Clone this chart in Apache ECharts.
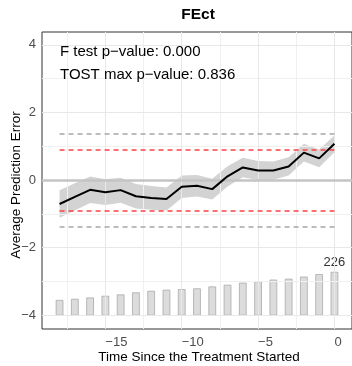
<!DOCTYPE html>
<html>
<head>
<meta charset="utf-8">
<script src="https://cdn.jsdelivr.net/npm/echarts@6/dist/echarts.min.js"></script>
<style>
  html, body { margin: 0; padding: 0; background: #ffffff; }
  #chart { width: 352px; height: 366px; }
</style>
</head>
<body>
<div id="chart"></div>
<script>
// Event time relative to treatment start
const periods = [-18, -17, -16, -15, -14, -13, -12, -11, -10, -9, -8, -7, -6, -5, -4, -3, -2, -1, 0];
// Average prediction error (pre-treatment residuals)
const estimate = [-0.71, -0.50, -0.29, -0.36, -0.30, -0.48, -0.53, -0.56, -0.20, -0.17, -0.27, 0.11, 0.37, 0.28, 0.28, 0.40, 0.81, 0.64, 1.07];
// Confidence band
const ciUpper = [-0.30, -0.10, 0.10, 0.02, 0.07, -0.12, -0.18, -0.22, 0.13, 0.15, 0.04, 0.41, 0.66, 0.56, 0.55, 0.67, 1.07, 0.90, 1.32];
const ciLower = [-1.12, -0.90, -0.68, -0.74, -0.67, -0.84, -0.88, -0.90, -0.53, -0.49, -0.58, -0.19, 0.08, 0.00, 0.01, 0.13, 0.55, 0.38, 0.82];
// Number of treated units observed at each period
const treatedCounts = [78, 84, 91, 100, 107, 118, 126, 132, 135, 139, 149, 158, 169, 176, 185, 190, 201, 214, 226];
// Equivalence bounds
const equivBound = 0.9;
const minRange = 1.37;
// Axis ticks
const xTicks = [-15, -10, -5, 0];
const yTicks = [-4, -2, 0, 2, 4];
const xMinorGrid = [-17.5, -12.5, -7.5, -2.5];
const yMinorGrid = [-3, -1, 1, 3];
// Annotation text
const titleText = 'FEct';
const fTestText = 'F test p\u2212value: 0.000';
const tostText = 'TOST max p\u2212value: 0.836';
const xTitle = 'Time Since the Treatment Started';
const yTitle = 'Average Prediction Error';

const FONT = '"Liberation Sans", Arial, Helvetica, sans-serif';
const minus = v => String(v).replace('-', '\u2212');

// Count bars sit at the bottom of the panel
const barBase = -4;
const barSpan = 1.27;
const barHalf = 0.225;
const maxCount = Math.max(...treatedCounts);

const chart = echarts.init(document.getElementById('chart'), null, { renderer: 'canvas' });

function gridLines(values, axis, color) {
  return values.map(v => ({ [axis]: v, lineStyle: { color: color, width: 1, type: 'solid' } }));
}

function hSeg(y, color) {
  return [{ coord: [periods[0], y], lineStyle: { color: color, width: 1.6, type: [5, 4] } },
          { coord: [periods[periods.length - 1], y] }];
}

const option = {
  animation: false,
  backgroundColor: '#ffffff',
  grid: {
    left: 42, top: 32, width: 314, height: 297,
    show: true, borderColor: '#333333', borderWidth: 1, backgroundColor: 'transparent',
    containLabel: false
  },
  xAxis: {
    type: 'value', min: -19.15, max: 1.15,
    axisLine: { show: false },
    splitLine: { show: false },
    axisTick: { show: true, customValues: xTicks, length: 3, lineStyle: { color: '#333333', width: 1 } },
    axisLabel: {
      customValues: xTicks, formatter: v => minus(v), margin: 7, align: 'left',
      color: '#4d4d4d', fontSize: 13, fontFamily: FONT
    }
  },
  yAxis: {
    type: 'value', min: -4.41, max: 4.38,
    axisLine: { show: false },
    splitLine: { show: false },
    axisTick: { show: true, customValues: yTicks, length: 3, lineStyle: { color: '#333333', width: 1 } },
    axisLabel: {
      customValues: yTicks, formatter: v => minus(v), margin: 6,
      color: '#4d4d4d', fontSize: 13, fontFamily: FONT
    }
  },
  graphic: [
    { type: 'text', z: 100, x: 198, y: 15, style: { text: titleText, font: 'bold 15.5px ' + FONT, fill: '#000000', textAlign: 'center', textVerticalAlign: 'middle' } },
    { type: 'text', z: 100, x: 60, y: 52, style: { text: fTestText, font: '15px ' + FONT, fill: '#000000', textAlign: 'left', textVerticalAlign: 'middle' } },
    { type: 'text', z: 100, x: 60, y: 75, style: { text: tostText, font: '15px ' + FONT, fill: '#000000', textAlign: 'left', textVerticalAlign: 'middle' } },
    { type: 'text', z: 100, x: 199, y: 357, style: { text: xTitle, font: '13.5px ' + FONT, fill: '#000000', textAlign: 'center', textVerticalAlign: 'middle' } },
    { type: 'text', z: 100, x: 16, y: 185, rotation: Math.PI / 2, style: { text: yTitle, font: '13.5px ' + FONT, fill: '#000000', textAlign: 'center', textVerticalAlign: 'middle' } }
  ],
  series: [
    // panel grid and reference lines
    {
      type: 'line', data: [], silent: true, z: 1,
      markLine: {
        silent: true, symbol: 'none', label: { show: false }, animation: false,
        data: [
          ...gridLines(xMinorGrid, 'xAxis', '#f0f0f0'),
          ...gridLines(yMinorGrid, 'yAxis', '#f0f0f0'),
          ...gridLines(xTicks, 'xAxis', '#e8e8e8'),
          ...gridLines(yTicks.filter(v => v !== 0), 'yAxis', '#e8e8e8'),
          { yAxis: 0, lineStyle: { color: '#c4c4c4', width: 2.5, type: 'solid' } }
        ]
      }
    },
    // confidence band
    {
      type: 'custom', z: 2, silent: true,
      data: periods.map((p, i) => [p, ciUpper[i], ciLower[i]]),
      encode: { x: 0, y: [1, 2] },
      renderItem: function (params, api) {
        if (params.dataIndex !== 0) return null;
        const pts = [];
        for (let i = 0; i < periods.length; i++) pts.push(api.coord([periods[i], ciUpper[i]]));
        for (let i = periods.length - 1; i >= 0; i--) pts.push(api.coord([periods[i], ciLower[i]]));
        return { type: 'polygon', shape: { points: pts }, style: { fill: '#d3d3d3', stroke: null } };
      }
    },
    // treated unit counts
    {
      type: 'custom', z: 3, silent: true,
      data: periods.map((p, i) => [p, treatedCounts[i]]),
      encode: { x: 0, y: 1 },
      renderItem: function (params, api) {
        const x = api.value(0), n = api.value(1);
        const top = barBase + n / maxCount * barSpan;
        const p1 = api.coord([x - barHalf, top]);
        const p2 = api.coord([x + barHalf, barBase]);
        const children = [{
          type: 'rect',
          shape: { x: p1[0], y: p1[1], width: p2[0] - p1[0], height: p2[1] - p1[1] },
          style: { fill: '#dcdcdc', stroke: '#a9a9a9', lineWidth: 0.8 }
        }];
        if (n === maxCount) {
          const c = api.coord([x, top]);
          children.push({
            type: 'text', x: c[0], y: c[1] - 9.5,
            style: { text: String(n), font: '13px ' + FONT, fill: '#333333', textAlign: 'center', textVerticalAlign: 'middle' }
          });
        }
        return { type: 'group', children: children };
      }
    },
    // bounds
    {
      type: 'line', data: [], silent: true, z: 4,
      markLine: {
        silent: true, symbol: 'none', label: { show: false }, animation: false,
        data: [
          hSeg(minRange, '#a6a6a6'), hSeg(-minRange, '#a6a6a6'),
          hSeg(equivBound, '#ff4040'), hSeg(-equivBound, '#ff4040')
        ]
      }
    },
    // estimates
    {
      type: 'line', z: 5, silent: true,
      data: periods.map((p, i) => [p, estimate[i]]),
      showSymbol: false, symbol: 'none',
      lineStyle: { color: '#000000', width: 2 }
    }
  ]
};

chart.setOption(option);
</script>
</body>
</html>
